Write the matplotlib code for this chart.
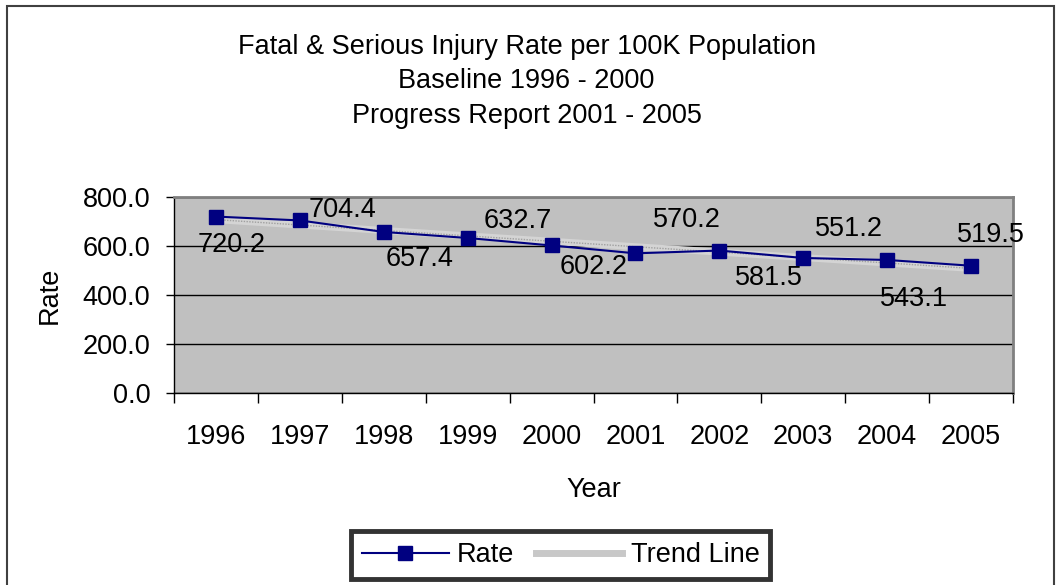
import numpy as np
import matplotlib
matplotlib.use('Agg')
import matplotlib.pyplot as plt
from matplotlib.lines import Line2D
from matplotlib.patches import Rectangle

plt.rcParams['font.family'] = ['Liberation Sans', 'DejaVu Sans']

years = ['1996', '1997', '1998', '1999', '2000', '2001', '2002', '2003', '2004', '2005']
rate = [720.2, 704.4, 657.4, 632.7, 602.2, 570.2, 581.5, 551.2, 543.1, 519.5]
yticks = [0, 200, 400, 600, 800]

# label offsets (pixels) as placed in the original chart
label_dx = [16, 43, 36, 50, 42, 51, 50, 46, 27, 20]
label_dy = [-28, 10, -27, 17, -22, 33, -27, 29, -39, 31]

x = np.arange(len(years))
# linear trend of the rate series
k, b = np.polyfit(x, rate, 1)
trend = k * x + b

FS = 19.5

fig = plt.figure(figsize=(10.58, 5.85), dpi=100)
ax = fig.add_axes([0.1645, 0.3282, 0.793, 0.335])
ax.set_facecolor('#c0c0c0')

ax.set_xlim(-0.5, len(years) - 0.5)
ax.set_ylim(0, 800)
ax.set_yticks(yticks)
ax.set_yticklabels(['%.1f' % v for v in yticks], fontsize=FS)
ax.yaxis.grid(True, color='black', linewidth=1)
ax.set_axisbelow(True)

# category ticks between years, labels centered
ax.set_xticks(np.arange(-0.5, len(years), 1.0))
ax.set_xticklabels([])
ax.set_xticks(x, minor=True)
ax.set_xticklabels(years, minor=True, fontsize=FS)
ax.tick_params(axis='x', which='major', length=7, width=1, direction='out')
ax.tick_params(axis='x', which='minor', length=0, pad=22)
ax.tick_params(axis='y', length=6, width=1, pad=11)

for s in ['top', 'right']:
    ax.spines[s].set_color('#808080')
    ax.spines[s].set_linewidth(2)
for s in ['left', 'bottom']:
    ax.spines[s].set_color('black')
    ax.spines[s].set_linewidth(1)

ax.plot(x, trend, color='#d4d4d4', linewidth=5, solid_capstyle='butt', zorder=2)
ax.plot(x, trend, color='#a0a0a0', linewidth=1, linestyle=(0, (1, 1)), zorder=2)
ax.plot(x, rate, color='#000080', linewidth=1.5, marker='s', markersize=10, zorder=3)

for i, v in enumerate(rate):
    ax.annotate('%.1f' % v, (x[i], v), xytext=(label_dx[i] * 0.72, label_dy[i] * 0.72),
                textcoords='offset points', ha='center', va='center', fontsize=FS, zorder=4)

ax.set_ylabel('Rate', fontsize=FS, labelpad=14)
ax.set_xlabel('Year', fontsize=FS, labelpad=20)

fig.text(0.4977, 0.942, 'Fatal & Serious Injury Rate per 100K Population\nBaseline 1996 - 2000\nProgress Report 2001 - 2005',
         ha='center', va='top', fontsize=19.5, linespacing=1.42)

h1 = Line2D([], [], color='#000080', linewidth=1.5, marker='s', markersize=10)
h2 = Line2D([], [], color='#c8c8c8', linewidth=5)
leg = fig.legend([h1, h2], ['Rate', 'Trend Line'], loc='center', bbox_to_anchor=(0.530, 0.0513),
                 ncol=2, fontsize=FS, frameon=True, fancybox=False, handlelength=3.2,
                 borderpad=0.4, borderaxespad=0, columnspacing=0.8, handletextpad=0.3)
leg.get_frame().set_edgecolor('black')
leg.get_frame().set_linewidth(3.5)

fig.add_artist(Rectangle((0.0066, -0.01), 0.99, 1.0, transform=fig.transFigure,
                         fill=False, edgecolor='#404040', linewidth=1.5))

fig.savefig('out.png', dpi=100)
